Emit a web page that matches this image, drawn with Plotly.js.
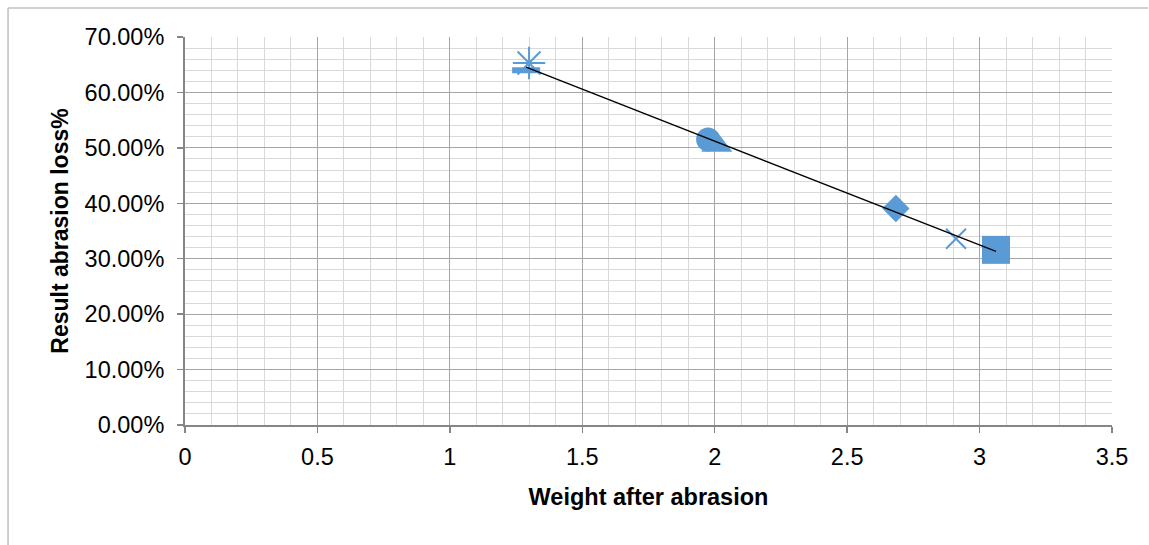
<!DOCTYPE html>
<html>
<head>
<meta charset="utf-8">
<script src="https://cdn.plot.ly/plotly-3.0.1.min.js"></script>
<style>html,body{margin:0;padding:0;background:#fff;}#chart{width:1149px;height:545px;}</style>
</head>
<body>
<div id="chart"></div>
<script>
// Data
var weightAfter = [2.684, 3.062, 2.008, 2.911, 1.299, 1.975, 1.288];
var lossPct     = [0.3906, 0.316, 0.505, 0.336, 0.653, 0.515, 0.640];
var xTickVals   = [0, 0.5, 1, 1.5, 2, 2.5, 3, 3.5];
var xTickText   = ['0', '0.5', '1', '1.5', '2', '2.5', '3', '3.5'];

// Marker styles (Excel automatic sequence)
var symbols = ['diamond', 'square', 'triangle-up', 'x-thin-open', 'asterisk-open', 'circle', 'line-ew-open'];
var sizes   = [21, 28, 27, 20, 27, 24, 20];
var lineW   = [0, 0, 0, 2, 2, 0, 6];
var blue = '#5B9BD5';

var traces = [];
for (var i = 0; i < weightAfter.length; i++) {
  var open = symbols[i].indexOf('open') >= 0;
  traces.push({
    type: 'scatter', mode: 'markers',
    x: [weightAfter[i]], y: [lossPct[i]],
    marker: {
      symbol: symbols[i], size: sizes[i], color: blue,
      line: {color: blue, width: open ? lineW[i] : 0}
    },
    hoverinfo: 'x+y', showlegend: false
  });
}

// Linear trendline (least squares) over the data
var n = weightAfter.length, mx = 0, my = 0;
for (var i = 0; i < n; i++) { mx += weightAfter[i]; my += lossPct[i]; }
mx /= n; my /= n;
var sxy = 0, sxx = 0;
for (var i = 0; i < n; i++) { sxy += (weightAfter[i]-mx)*(lossPct[i]-my); sxx += (weightAfter[i]-mx)*(weightAfter[i]-mx); }
var slope = sxy / sxx, icpt = my - slope * mx;
var xmin = Math.min.apply(null, weightAfter), xmax = Math.max.apply(null, weightAfter);
traces.push({
  type: 'scatter', mode: 'lines',
  x: [xmin, xmax], y: [icpt + slope*xmin, icpt + slope*xmax],
  line: {color: '#000000', width: 1.4},
  hoverinfo: 'skip', showlegend: false
});

var font = 'Liberation Sans, Arial, sans-serif';
var layout = {
  width: 1149, height: 545,
  margin: {l: 185, r: 37, t: 37, b: 120},
  paper_bgcolor: '#ffffff', plot_bgcolor: '#ffffff',
  font: {family: font, size: 23.5, color: '#000000'},
  showlegend: false,
  xaxis: {
    range: [0, 3.5], tickvals: xTickVals, ticktext: xTickText,
    showgrid: true, gridcolor: '#a6a6a6', gridwidth: 1,
    minor: {dtick: 0.1, showgrid: true, gridcolor: '#d9d9d9', gridwidth: 1, ticks: ''},
    showline: true, linecolor: '#868686', linewidth: 2,
    ticks: 'outside', ticklen: 6, tickcolor: '#868686', tickwidth: 1.5,
    ticklabelstandoff: 4,
    zeroline: false,
    tickfont: {family: font, size: 23.5, color: '#000'},
    title: {text: 'Weight after abrasion', standoff: 19, font: {family: font, size: 23.5, color: '#000', weight: 'bold'}}
  },
  yaxis: {
    range: [0, 0.7], dtick: 0.1, tickformat: '.2%',
    showgrid: true, gridcolor: '#a6a6a6', gridwidth: 1,
    minor: {dtick: 0.02, showgrid: true, gridcolor: '#d9d9d9', gridwidth: 1, ticks: ''},
    showline: true, linecolor: '#868686', linewidth: 2,
    ticks: 'outside', ticklen: 6, tickcolor: '#868686', tickwidth: 1.5,
    ticklabelstandoff: 8,
    zeroline: false,
    tickfont: {family: font, size: 23.5, color: '#000'},
    title: {text: 'Result abrasion loss%', standoff: 10, font: {family: font, size: 23, color: '#000', weight: 'bold'}}
  },
  shapes: [
    {type: 'line', xref: 'paper', yref: 'paper', x0: -0.1909, x1: 1.0388, y0: 1.0747, y1: 1.0747,
     line: {color: '#bfbfbf', width: 1.5}},
    {type: 'line', xref: 'paper', yref: 'paper', x0: -0.1909, x1: -0.1909, y0: 1.0747, y1: -0.4,
     line: {color: '#bfbfbf', width: 1.5}}
  ]
};

Plotly.newPlot('chart', traces, layout, {displayModeBar: false, staticPlot: true});
</script>
</body>
</html>
